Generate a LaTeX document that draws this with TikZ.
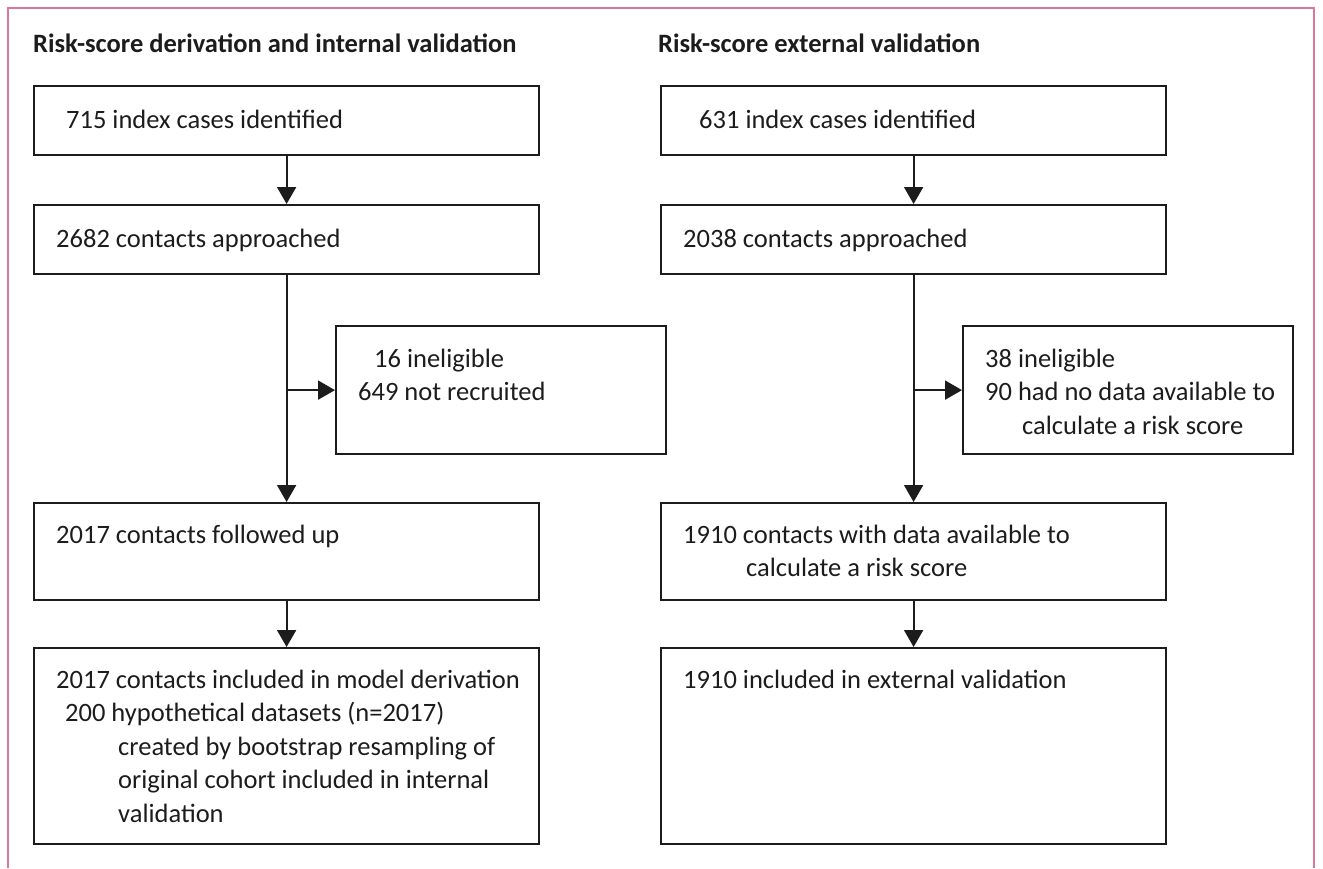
\documentclass[tikz,border=0pt]{standalone}
\usepackage{fontspec}
\setmainfont{Carlito}
\usetikzlibrary{arrows.meta}

\definecolor{framepink}{RGB}{222,118,150}
\definecolor{inkdark}{RGB}{28,28,28}

% stack lines left aligned, baseline on the first line
\newcommand{\flowlines}[1]{\begin{tabular}[t]{@{}l@{}}#1\end{tabular}}

\tikzset{
    flowbox/.style={draw=inkdark, line width=2.2pt, rectangle, anchor=north west, inner sep=0pt},
    flowtext/.style={anchor=base west, inner sep=0pt, text=inkdark, font=\fontsize{26.5}{33.5}\selectfont},
    flowtitle/.style={flowtext, font=\fontsize{26.5}{33.5}\selectfont\bfseries},
    flowarrow/.style={draw=inkdark, line width=2pt, -{Triangle[length=17pt,width=19pt]}}
}

\begin{document}
\begin{tikzpicture}[x=1pt, y=-1pt]
        \useasboundingbox (0,0) rectangle (1323,868);
        % Pink frame, open at the bottom
        \draw[framepink, line width=2pt] (8,868) -- (8,8) -- (1314,8) -- (1314,868);

        % Left column: derivation and internal validation
        \node[flowtitle] (ltitle) at (33,52) {Risk-score derivation and internal validation};
        \node[flowbox, minimum width=505pt, minimum height=69pt] (b1) at (33,85) {};
        \node[flowbox, minimum width=505pt, minimum height=69pt] (b2) at (33,204) {};
        \node[flowbox, minimum width=330pt, minimum height=128pt] (b3) at (335,325) {};
        \node[flowbox, minimum width=505pt, minimum height=97pt] (b4) at (33,502) {};
        \node[flowbox, minimum width=505pt, minimum height=196pt] (b5) at (33,647) {};

        \node[flowtext] (b1t) at (66,128) {715 index cases identified};
        \node[flowtext] (b2t) at (56,247) {2682 contacts approached};
        \node[flowtext] (b3t) at (358,367) {\flowlines{\hspace*{16pt}16 ineligible\\649 not recruited}};
        \node[flowtext] (b4t) at (56,543) {2017 contacts followed up};
        \node[flowtext] (b5t) at (56,688) {\flowlines{2017 contacts included in model derivation\\
            \hspace*{9pt}200 hypothetical datasets (n=2017)\\
            \hspace*{62pt}created by bootstrap resampling of\\
            \hspace*{62pt}original cohort included in internal\\
            \hspace*{62pt}validation}};

        \draw[flowarrow] (b1.south) -- (b2.north);
        \draw[flowarrow] (b2.south) -- (b4.north);
        \draw[flowarrow] (b2.south |- b3.west) -- (b3.west);
        \draw[flowarrow] (b4.south) -- (b5.north);

        % Right column: external validation
        \node[flowtitle] (rtitle) at (658,52) {Risk-score external validation};
        \node[flowbox, minimum width=505pt, minimum height=69pt] (r1) at (660,85) {};
        \node[flowbox, minimum width=505pt, minimum height=69pt] (r2) at (660,204) {};
        \node[flowbox, minimum width=330pt, minimum height=128pt] (r3) at (962,325) {};
        \node[flowbox, minimum width=505pt, minimum height=97pt] (r4) at (660,502) {};
        \node[flowbox, minimum width=505pt, minimum height=196pt] (r5) at (660,647) {};

        \node[flowtext] (r1t) at (699,128) {631 index cases identified};
        \node[flowtext] (r2t) at (683,247) {2038 contacts approached};
        \node[flowtext] (r3t) at (985,367) {\flowlines{38 ineligible\\90 had no data available to\\
            \hspace*{37pt}calculate a risk score}};
        \node[flowtext] (r4t) at (683,543) {\flowlines{1910 contacts with data available to\\
            \hspace*{63pt}calculate a risk score}};
        \node[flowtext] (r5t) at (683,688) {1910 included in external validation};

        \draw[flowarrow] (r1.south) -- (r2.north);
        \draw[flowarrow] (r2.south) -- (r4.north);
        \draw[flowarrow] (r2.south |- r3.west) -- (r3.west);
        \draw[flowarrow] (r4.south) -- (r5.north);
\end{tikzpicture}
\end{document}
